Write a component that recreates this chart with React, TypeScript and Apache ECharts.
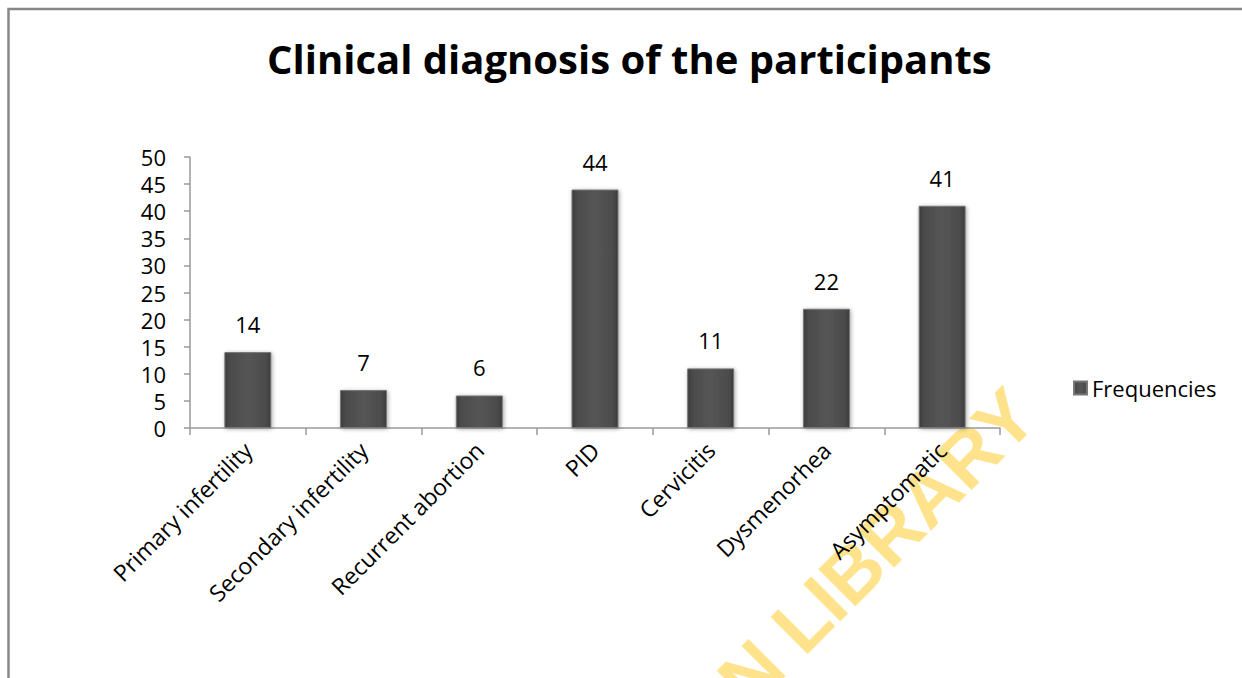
import React, { useEffect, useRef } from "react";
import * as echarts from "echarts";

const categories = [
  "Primary infertility",
  "Secondary infertility",
  "Recurrent abortion",
  "PID",
  "Cervicitis",
  "Dysmenorhea",
  "Asymptomatic",
];
const frequencies = [14, 7, 6, 44, 11, 22, 41];
const seriesName = "Frequencies";
const titleText = "Clinical diagnosis of the participants";
const watermarkText = "AN LIBRARY";

const FONT = "'Open Sans', 'Noto Sans', sans-serif";

export default function App() {
  const ref = useRef<HTMLDivElement>(null);
  useEffect(() => {
    document.body.style.margin = "0";
    const chart = echarts.init(ref.current!, null, { renderer: "svg" });
    const barGradient = new echarts.graphic.LinearGradient(0, 0, 1, 0, [
      { offset: 0, color: "#3c3c3c" },
      { offset: 0.12, color: "#4c4c4c" },
      { offset: 0.5, color: "#555555" },
      { offset: 0.88, color: "#4c4c4c" },
      { offset: 1, color: "#3c3c3c" },
    ]);
    chart.setOption({
      animation: false,
      backgroundColor: "#ffffff",
      title: {
        text: titleText,
        left: 262,
        top: 33,
        textStyle: { fontFamily: FONT, fontWeight: "bold", fontSize: 40, color: "#000" },
      },
      legend: {
        orient: "vertical",
        left: 1068,
        top: 372,
        icon: "rect",
        itemWidth: 13,
        itemHeight: 13,
        itemGap: 6,
        textStyle: { fontFamily: FONT, fontSize: 22, color: "#000" },
        data: [seriesName],
      },
      grid: { left: 190, right: 242, top: 157, bottom: 250, containLabel: false },
      xAxis: {
        type: "category",
        data: categories,
        axisLine: { lineStyle: { color: "#9a9a9a", width: 1.5 } },
        axisTick: { show: true, length: 7, lineStyle: { color: "#9a9a9a", width: 1.5 } },
        axisLabel: {
          rotate: 45,
          interval: 0,
          margin: 18,
          fontFamily: FONT,
          fontSize: 23,
          color: "#000",
        },
      },
      yAxis: {
        type: "value",
        min: 0,
        max: 50,
        interval: 5,
        axisLine: { show: true, lineStyle: { color: "#9a9a9a", width: 1.5 } },
        axisTick: { show: true, length: 6, lineStyle: { color: "#9a9a9a", width: 1.5 } },
        splitLine: { show: false },
        axisLabel: { margin: 24, fontFamily: FONT, fontSize: 22, color: "#000" },
      },
      series: [
        {
          name: seriesName,
          type: "bar",
          data: frequencies,
          barWidth: 47,
          itemStyle: {
            color: barGradient,
            borderColor: "#777777",
            borderWidth: 1,
            shadowBlur: 4,
            shadowColor: "rgba(0,0,0,0.35)",
            shadowOffsetX: 1,
            shadowOffsetY: 1,
          },
          label: {
            show: true,
            position: "top",
            distance: 17,
            fontFamily: FONT,
            fontSize: 22,
            color: "#000",
          },
        },
      ],
      graphic: [
        {
          type: "rect",
          shape: { x: 8.5, y: 9, width: 1400, height: 900 },
          style: { fill: "none", stroke: "#888888", lineWidth: 2.5 },
          silent: true,
          z: 100,
        },
        {
          type: "text",
          x: 1022,
          y: 402,
          rotation: (45 * Math.PI) / 180,
          style: {
            text: watermarkText,
            fontFamily: "'Liberation Sans', Arial, sans-serif",
            fontWeight: "bold",
            fontSize: 76,
            fill: "#FFE38C",
            textAlign: "right",
            textVerticalAlign: "middle",
          },
          silent: true,
          z: -10,
        },
      ],
    });
    return () => chart.dispose();
  }, []);
  return <div ref={ref} style={{ width: 1242, height: 678 }} />;
}
